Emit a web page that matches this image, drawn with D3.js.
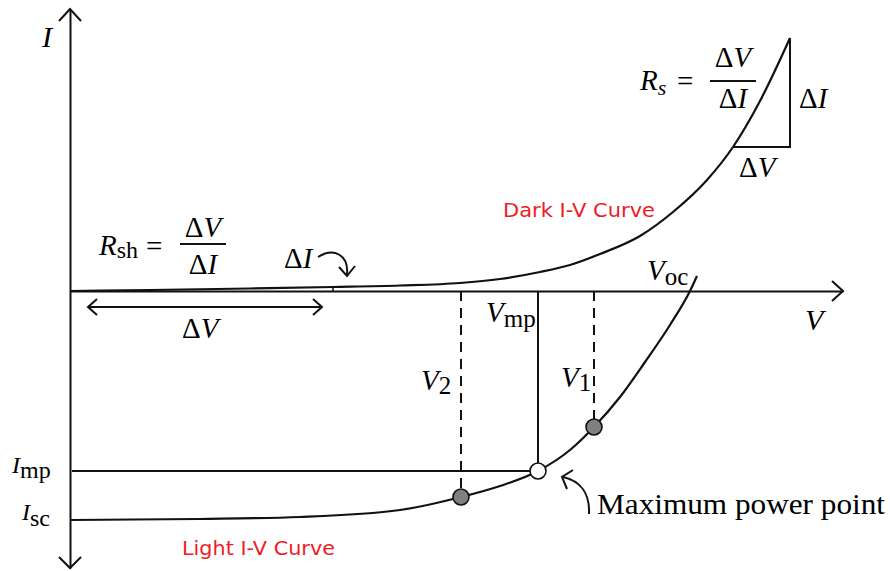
<!DOCTYPE html>
<html>
<head>
<meta charset="utf-8">
<script src="https://cdn.jsdelivr.net/npm/d3@7"></script>
<style>
  html, body { margin: 0; padding: 0; background: #fff; }
  svg { display: block; }
  .math { font-family: "Liberation Serif", "DejaVu Serif", serif; fill: #000; }
  .tag { font-family: "DejaVu Sans", "Noto Sans", sans-serif; fill: #ee1c25; font-size: 19px; }
</style>
</head>
<body>
<svg id="chart" width="890" height="571"></svg>
<script>
// Dark (unilluminated) I-V characteristic, voltage and current in arbitrary units
const darkV = [0, 0.08, 0.18, 0.263, 0.33, 0.39, 0.43, 0.47, 0.50, 0.53, 0.57, 0.603, 0.637, 0.663, 0.69, 0.72];
const darkI = [0, 0.01, 0.025, 0.04, 0.055, 0.08, 0.12, 0.19, 0.26, 0.37, 0.55, 0.79, 1.11, 1.44, 1.90, 2.53];

// Illuminated I-V characteristic (photocurrent plotted downward)
const lightV = [0, 0.13, 0.23, 0.33, 0.391, 0.43, 0.468, 0.50, 0.524, 0.55, 0.575, 0.60, 0.62, 0.627];
const lightI = [-2.29, -2.28, -2.26, -2.19, -2.06, -1.95, -1.80, -1.59, -1.36, -1.06, -0.71, -0.34, 0, 0.15];

// Operating points on the light curve
const opNames = ["V2", "Vmp", "V1"];
const opV = [0.391, 0.468, 0.524];
const opI = [-2.06, -1.80, -1.36];
const Voc = 0.62;
const Isc = -2.29;

// Slope construction points for the resistances
const rsV = [0.663, 0.72];     // series-resistance triangle base / top
const rsI = [1.44, 2.53];
const rshV = 0.263;            // shunt-resistance reference voltage

const svg = d3.select("#chart");

const x = d3.scaleLinear().domain([0, 0.773]).range([70, 843]);
const y = d3.scaleLinear().domain([-2.77, 2.82]).range([568, 9]);

const ink = "#111";

// ---- axes (no ticks; only the axis lines) ----
const gx = svg.append("g")
  .attr("transform", `translate(0,${y(0)})`)
  .call(d3.axisBottom(x).tickValues([]).tickSizeOuter(0));
const gy = svg.append("g")
  .attr("transform", `translate(${x(0)},0)`)
  .call(d3.axisLeft(y).tickValues([]).tickSizeOuter(0));
[gx, gy].forEach(g => g.select(".domain").attr("stroke", ink).attr("stroke-width", 2));

const chevron = (pts) => svg.append("path")
  .attr("d", d3.line()(pts))
  .attr("fill", "none").attr("stroke", ink).attr("stroke-width", 2)
  .attr("stroke-linejoin", "miter");

// arrow heads on axis ends
const x0 = x(0), y0 = y(0);
const yTop = y.range()[1], yBot = y.range()[0], xRight = x.range()[1];
chevron([[x0 - 11, yTop + 12], [x0, yTop], [x0 + 11, yTop + 12]]);
chevron([[x0 - 11, yBot - 11], [x0, yBot], [x0 + 11, yBot - 11]]);
chevron([[xRight - 11, y0 - 10], [xRight, y0], [xRight - 11, y0 + 10]]);

// ---- curves ----
const line = d3.line().x(d => x(d[0])).y(d => y(d[1])).curve(d3.curveMonotoneX);
const darkPts = darkV.map((v, i) => [v, darkI[i]]);
const lightPts = lightV.map((v, i) => [v, lightI[i]]);

svg.append("path").attr("d", line(darkPts))
  .attr("fill", "none").attr("stroke", ink).attr("stroke-width", 2.2);
svg.append("path").attr("d", line(lightPts))
  .attr("fill", "none").attr("stroke", ink).attr("stroke-width", 2.2);

// ---- guide lines to the operating points ----
opNames.forEach((n, i) => {
  svg.append("line")
    .attr("x1", x(opV[i])).attr("x2", x(opV[i]))
    .attr("y1", y(0)).attr("y2", y(opI[i]))
    .attr("stroke", ink).attr("stroke-width", 2)
    .attr("stroke-dasharray", n === "Vmp" ? null : "10,7");
});
// Imp horizontal
svg.append("line")
  .attr("x1", x(0) + 2).attr("x2", x(opV[1]))
  .attr("y1", y(opI[1])).attr("y2", y(opI[1]))
  .attr("stroke", ink).attr("stroke-width", 2);

// operating point markers
opNames.forEach((n, i) => {
  svg.append("circle")
    .attr("cx", x(opV[i])).attr("cy", y(opI[i])).attr("r", 8)
    .attr("fill", n === "Vmp" ? "#fff" : "#808080")
    .attr("stroke", ink).attr("stroke-width", 1.6);
});

// ---- Rs triangle ----
svg.append("path")
  .attr("d", d3.line()([[x(rsV[0]), y(rsI[0])], [x(rsV[1]), y(rsI[0])], [x(rsV[1]), y(rsI[1])]]))
  .attr("fill", "none").attr("stroke", ink).attr("stroke-width", 2);

// ---- Rsh construction ----
svg.append("line")
  .attr("x1", x(rshV)).attr("x2", x(rshV))
  .attr("y1", y(0)).attr("y2", y(0.045))
  .attr("stroke", ink).attr("stroke-width", 1.5);

// ΔV double arrow under the axis
const dvY = 307, dvL = 88, dvR = 322;
svg.append("line").attr("x1", dvL).attr("x2", dvR).attr("y1", dvY).attr("y2", dvY)
  .attr("stroke", ink).attr("stroke-width", 2);
chevron([[dvL + 9, dvY - 8], [dvL, dvY], [dvL + 9, dvY + 8]]);
chevron([[dvR - 9, dvY - 8], [dvR, dvY], [dvR - 9, dvY + 8]]);

// curved ΔI pointer
svg.append("path").attr("d", "M318,257 C334,247 349,255 347,275")
  .attr("fill", "none").attr("stroke", ink).attr("stroke-width", 2);
chevron([[339, 267], [347, 276], [355, 266]]);

// curved pointer to the maximum power point
svg.append("path").attr("d", "M589,514 C590,494 581,481 563,477")
  .attr("fill", "none").attr("stroke", ink).attr("stroke-width", 2);
chevron([[573, 470], [562, 477], [567, 489]]);

// ---- text ----
function mathText(px, py, parts, size) {
  const t = svg.append("text").attr("class", "math")
    .attr("x", px).attr("y", py).attr("font-size", size);
  parts.forEach(p => {
    const s = t.append("tspan").text(p.t);
    if (p.i) s.attr("font-style", "italic");
    if (p.sub) s.attr("font-size", p.sub).attr("dy", p.dy || 6);
    if (p.dx) s.attr("dx", p.dx);
  });
  return t;
}
function fraction(cx, numY, lineY, denY, half) {
  mathText(cx, numY, [{ t: "Δ" }, { t: "V", i: true }], 29).attr("text-anchor", "middle");
  svg.append("line").attr("x1", cx - half).attr("x2", cx + half)
    .attr("y1", lineY).attr("y2", lineY).attr("stroke", ink).attr("stroke-width", 1.8);
  mathText(cx, denY, [{ t: "Δ" }, { t: "I", i: true }], 29).attr("text-anchor", "middle");
}

// axis names
mathText(42, 47, [{ t: "I", i: true }], 30);
mathText(805, 330, [{ t: "V", i: true }], 30);

// Rs = ΔV/ΔI
mathText(640, 90, [{ t: "R", i: true }, { t: "s", i: true, sub: 22, dy: 5 }], 29);
mathText(677, 91, [{ t: "=" }], 29);
fraction(733, 67, 81, 108, 23);
mathText(799, 108, [{ t: "Δ" }, { t: "I", i: true }], 29);
mathText(739, 177, [{ t: "Δ" }, { t: "V", i: true }], 29);

// Rsh = ΔV/ΔI
mathText(99, 255, [{ t: "R", i: true }, { t: "sh", sub: 24, dy: 3 }], 29);
mathText(146, 256, [{ t: "=" }], 29);
fraction(203, 237, 244, 274, 23);
mathText(284, 268, [{ t: "Δ" }, { t: "I", i: true }], 29);
mathText(182, 338, [{ t: "Δ" }, { t: "V", i: true }], 29);

// voltage labels
mathText(647, 280, [{ t: "V", i: true }, { t: "oc", sub: 25, dy: 5 }], 29);
mathText(486, 322, [{ t: "V", i: true }, { t: "mp", sub: 25, dy: 5 }], 29);
mathText(561, 387, [{ t: "V", i: true }, { t: "1", sub: 25, dy: 4 }], 29);
mathText(421, 390, [{ t: "V", i: true }, { t: "2", sub: 25, dy: 4 }], 29);

// current labels
mathText(12, 473, [{ t: "I", i: true }, { t: "mp", sub: 24, dy: 5 }], 24);
mathText(22, 520, [{ t: "I", i: true }, { t: "sc", sub: 24, dy: 6 }], 24);

// annotations
svg.append("text").attr("class", "math").attr("x", 597).attr("y", 514)
  .attr("font-size", 30).attr("textLength", 288).attr("lengthAdjust", "spacingAndGlyphs")
  .text("Maximum power point");
svg.append("text").attr("class", "tag").attr("x", 503).attr("y", 217)
  .attr("textLength", 152).attr("lengthAdjust", "spacingAndGlyphs").text("Dark I-V Curve");
svg.append("text").attr("class", "tag").attr("x", 182).attr("y", 555)
  .attr("textLength", 153).attr("lengthAdjust", "spacingAndGlyphs").text("Light I-V Curve");
</script>
</body>
</html>
